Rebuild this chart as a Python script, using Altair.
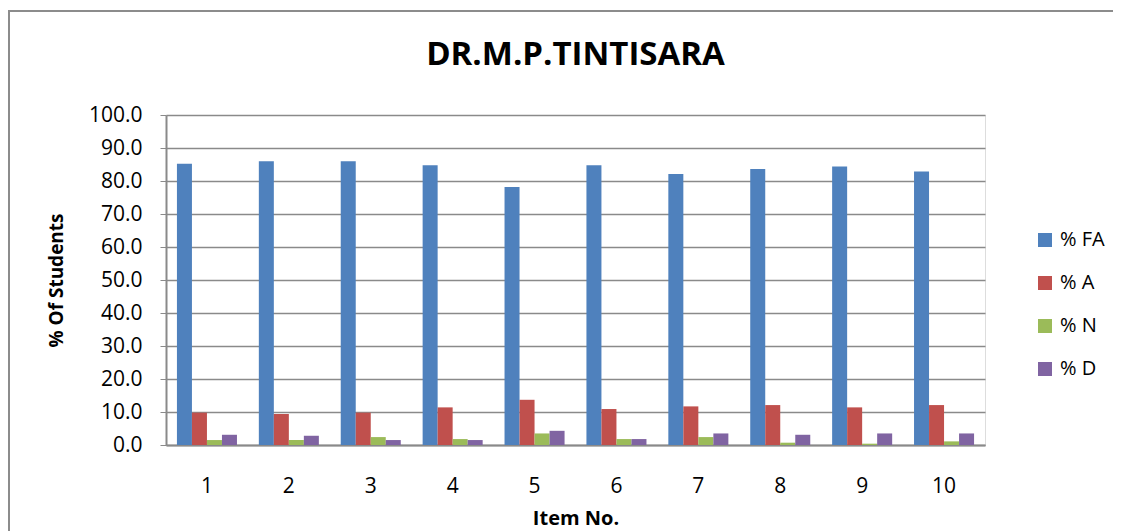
import altair as alt
import pandas as pd

items = ["1", "2", "3", "4", "5", "6", "7", "8", "9", "10"]
series = ["\u00a0% FA", "% A", "% N", "% D"]
fa = [85.2, 86.0, 86.0, 84.8, 78.2, 84.8, 82.1, 83.6, 84.4, 82.9]
a = [9.8, 9.4, 9.8, 11.4, 13.7, 10.9, 11.7, 12.1, 11.4, 12.1]
n = [1.5, 1.5, 2.4, 1.8, 3.5, 1.8, 2.4, 0.7, 0.4, 1.1]
d = [3.1, 2.8, 1.5, 1.5, 4.3, 1.8, 3.5, 3.1, 3.5, 3.5]
colors = ["#4F81BD", "#C0504D", "#9BBB59", "#8064A2"]

rows = []
for s, vals in zip(series, [fa, a, n, d]):
    for it, v in zip(items, vals):
        rows.append({"item": it, "series": s, "value": v})
df = pd.DataFrame(rows)

FONT = "Open Sans"
GRID = "#8a8a8a"

bars = alt.Chart(df).mark_bar().encode(
    x=alt.X("item:N", sort=items,
            scale=alt.Scale(paddingInner=0.267, paddingOuter=0.1335),
            axis=alt.Axis(title="Item No.", labelAngle=0, ticks=False,
                          labelPadding=30, titlePadding=12,
                          labelFontSize=21, titleFontSize=20, titleFontWeight="bold",
                          domainColor=GRID, domainWidth=2, grid=False,
                          labelColor="#000", titleColor="#000",
                          labelFont=FONT, titleFont=FONT)),
    xOffset=alt.XOffset("series:N", sort=series,
                        scale=alt.Scale(domain=series, paddingInner=0, paddingOuter=0)),
    y=alt.Y("value:Q",
            scale=alt.Scale(domain=[0, 100], nice=False),
            axis=alt.Axis(title="% Of Students", format=".1f", values=list(range(0, 101, 10)),
                          tickSize=6, tickColor=GRID, labelPadding=18,
                          labelFontSize=21, titleFontSize=19, titleFontWeight="bold",
                          titlePadding=22,
                          domainColor=GRID, domainWidth=2,
                          gridColor=GRID, gridWidth=1.6,
                          labelColor="#000", titleColor="#000",
                          labelFont=FONT, titleFont=FONT)),
    color=alt.Color("series:N", sort=series,
                    scale=alt.Scale(domain=series, range=colors),
                    legend=alt.Legend(title=None, orient="none", legendX=869, legendY=115,
                                      symbolType="square", symbolSize=196,
                                      symbolStrokeWidth=0, labelFontSize=20,
                                      labelFont=FONT, labelColor="#000",
                                      rowPadding=23, labelOffset=5)),
)

frame_df = pd.DataFrame({"k": [0]})
frame = alt.Chart(frame_df).mark_rect(fill=None, stroke="#8c8c8c", strokeWidth=2).encode(
    x=alt.value(-157), x2=alt.value(1200), y=alt.value(-104), y2=alt.value(700)
)

chart = alt.layer(frame, bars).properties(
    width=819, height=330,
    title=alt.TitleParams("DR.M.P.TINTISARA", font=FONT, fontSize=33, fontWeight="bold",
                          color="#000", anchor="middle", offset=0, dy=62),
    autosize=alt.AutoSizeParams(type="none"),
    padding={"left": 158, "top": 107, "right": 128, "bottom": 88},
).configure_view(stroke=None).configure(background="white")

chart.save("out.html", embed_options={"renderer": "svg", "actions": False})
